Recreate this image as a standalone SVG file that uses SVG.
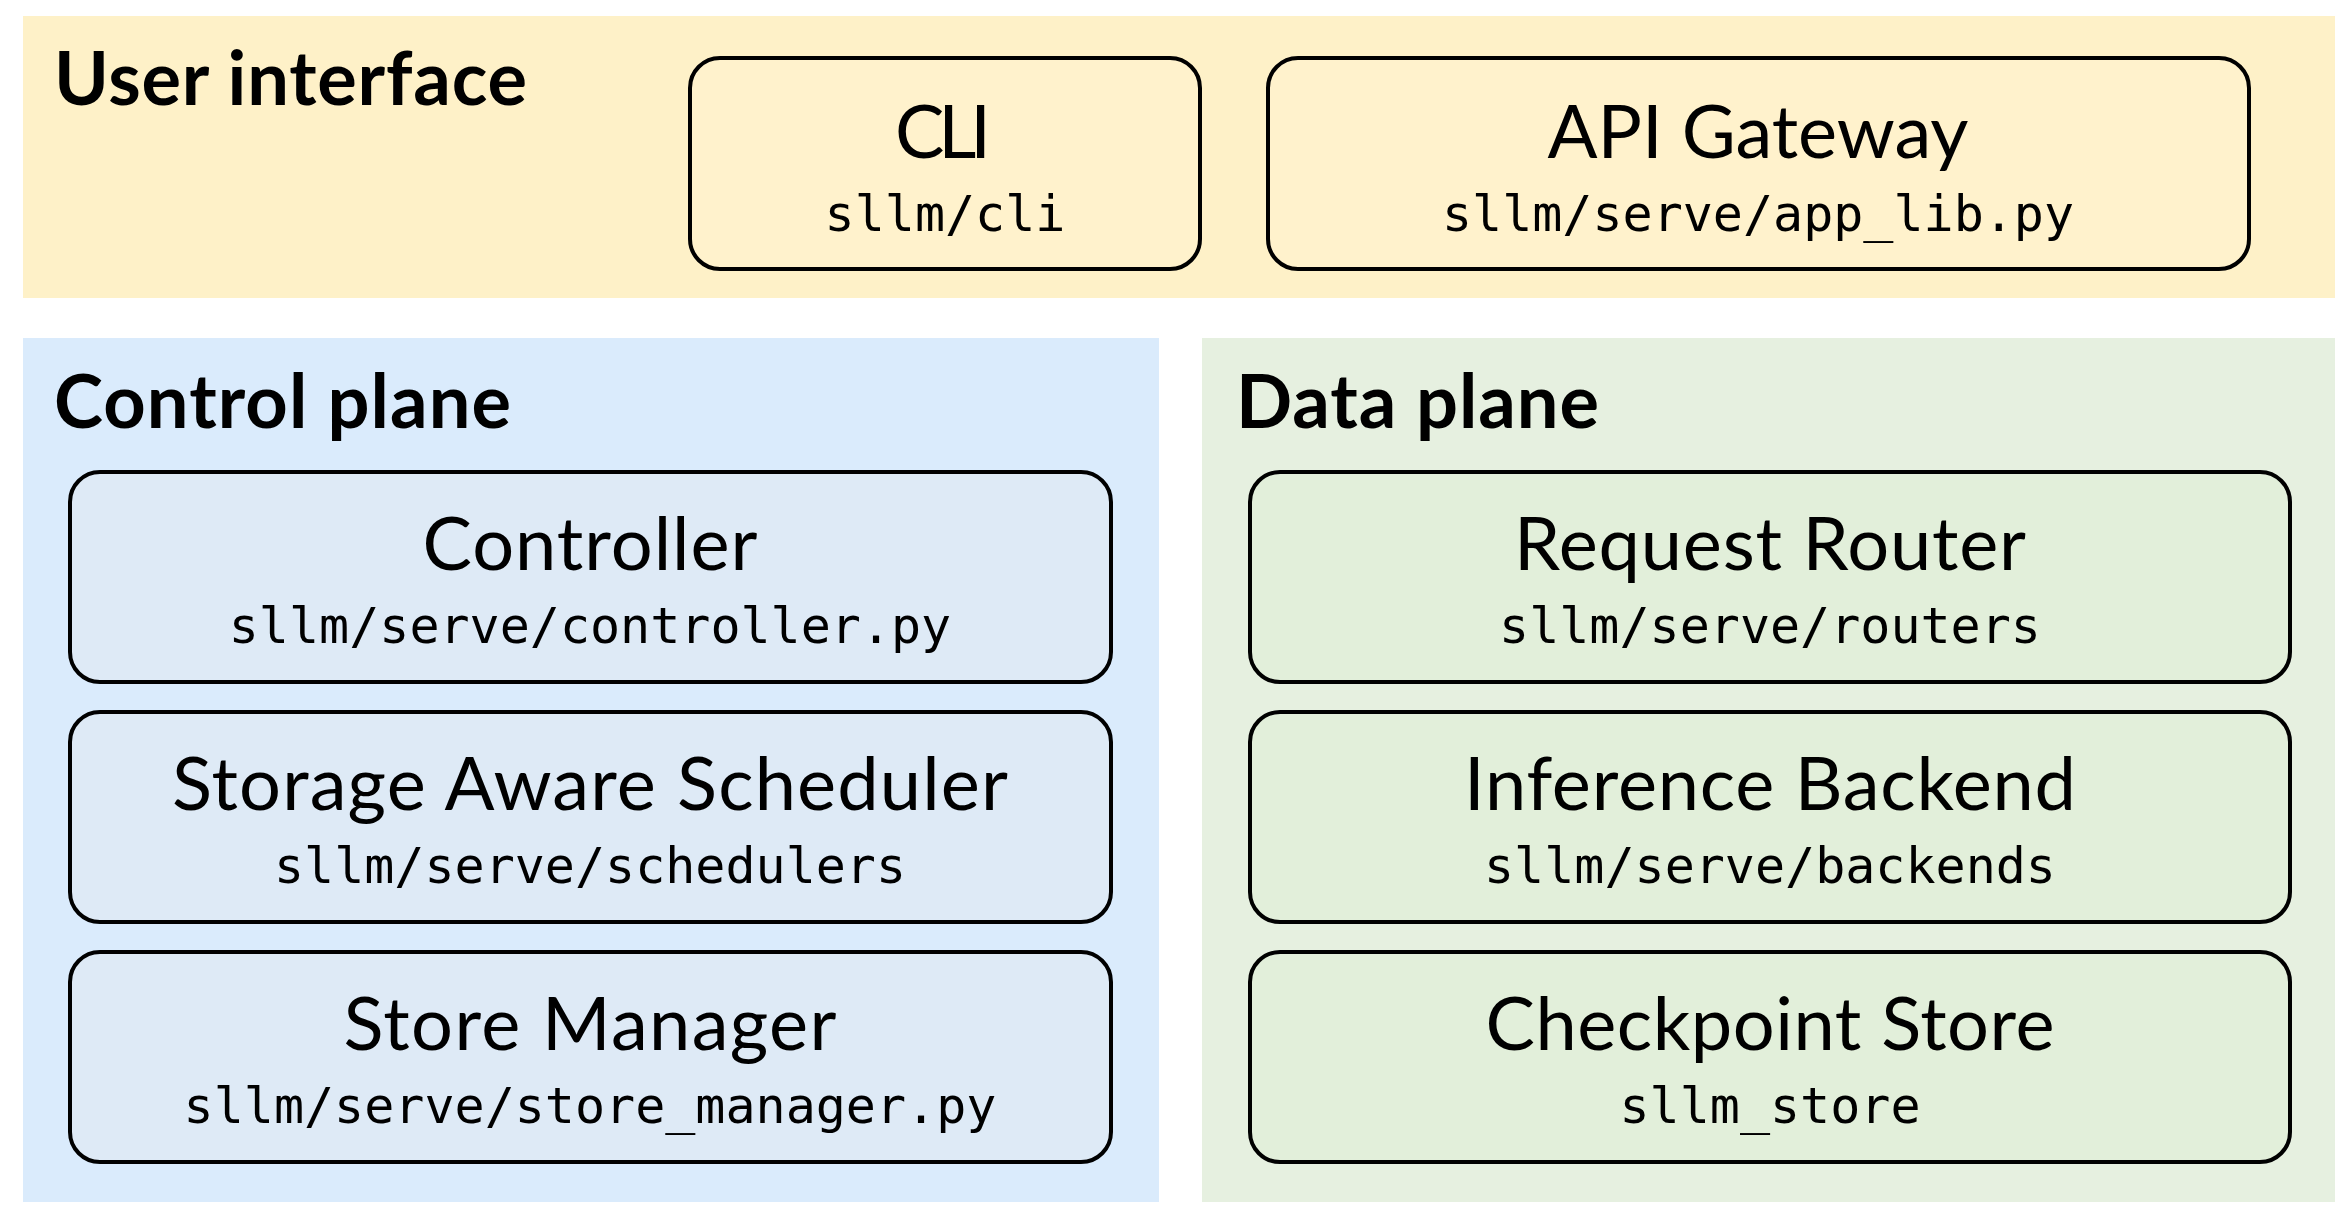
<svg xmlns="http://www.w3.org/2000/svg" width="2342" height="1210" viewBox="0 0 2342 1210">
  <style>
    .panel-ui { fill: #FEF1C8; }
    .panel-cp { fill: #DAEBFC; }
    .panel-dp { fill: #E6F0E0; }
    .box { stroke: #000; stroke-width: 4; }
    .box-ui { fill: #FFF2CC; }
    .box-cp { fill: #DEEAF6; }
    .box-dp { fill: #E2EFDA; }
    .hdr { font-family: Lato, "Liberation Sans", sans-serif; font-weight: bold; font-size: 74px; fill: #000; }
    .ttl { font-family: Lato, "Liberation Sans", sans-serif; font-size: 74px; fill: #000; text-anchor: middle; }
    .mono { font-family: "DejaVu Sans Mono", "Liberation Mono", monospace; font-size: 50px; fill: #000; text-anchor: middle; }
  </style>
  <rect width="2342" height="1210" fill="#FFFFFF"/>

  <g id="panel-user-interface">
    <rect class="panel-ui" x="23" y="16" width="2312" height="282"/>
    <text class="hdr" x="54" y="105" textLength="473">User interface</text>
  </g>
  <g id="panel-control-plane">
    <rect class="panel-cp" x="23" y="338" width="1136" height="864"/>
    <text class="hdr" x="54" y="428" textLength="457">Control plane</text>
  </g>
  <g id="panel-data-plane">
    <rect class="panel-dp" x="1202" y="338" width="1133" height="864"/>
    <text class="hdr" x="1236" y="428" textLength="363">Data plane</text>
  </g>

  <g id="node-cli">
    <rect class="box box-ui" x="690" y="58" width="510" height="211" rx="30" ry="30"/>
    <text class="ttl" x="943" y="158" textLength="96">CLI</text>
    <text class="mono" x="945" y="231">sllm/cli</text>
  </g>
  <g id="node-api-gateway">
    <rect class="box box-ui" x="1268" y="58" width="981" height="211" rx="30" ry="30"/>
    <text class="ttl" x="1758" y="158" textLength="421">API Gateway</text>
    <text class="mono" x="1758" y="231">sllm/serve/app_lib.py</text>
  </g>

  <g id="node-controller">
    <rect class="box box-cp" x="70" y="472" width="1041" height="210" rx="30" ry="30"/>
    <text class="ttl" x="590" y="570" textLength="335">Controller</text>
    <text class="mono" x="590" y="643">sllm/serve/controller.py</text>
  </g>
  <g id="node-scheduler">
    <rect class="box box-cp" x="70" y="712" width="1041" height="210" rx="30" ry="30"/>
    <text class="ttl" x="590" y="810" textLength="836">Storage Aware Scheduler</text>
    <text class="mono" x="590" y="883">sllm/serve/schedulers</text>
  </g>
  <g id="node-store-manager">
    <rect class="box box-cp" x="70" y="952" width="1041" height="210" rx="30" ry="30"/>
    <text class="ttl" x="590" y="1050" textLength="493">Store Manager</text>
    <text class="mono" x="590" y="1123">sllm/serve/store_manager.py</text>
  </g>

  <g id="node-request-router">
    <rect class="box box-dp" x="1250" y="472" width="1040" height="210" rx="30" ry="30"/>
    <text class="ttl" x="1770" y="570" textLength="512">Request Router</text>
    <text class="mono" x="1770" y="643">sllm/serve/routers</text>
  </g>
  <g id="node-inference-backend">
    <rect class="box box-dp" x="1250" y="712" width="1040" height="210" rx="30" ry="30"/>
    <text class="ttl" x="1770" y="810" textLength="612">Inference Backend</text>
    <text class="mono" x="1770" y="883">sllm/serve/backends</text>
  </g>
  <g id="node-checkpoint-store">
    <rect class="box box-dp" x="1250" y="952" width="1040" height="210" rx="30" ry="30"/>
    <text class="ttl" x="1770" y="1050" textLength="569">Checkpoint Store</text>
    <text class="mono" x="1770" y="1123">sllm_store</text>
  </g>

  <g id="connectors"></g>
</svg>
